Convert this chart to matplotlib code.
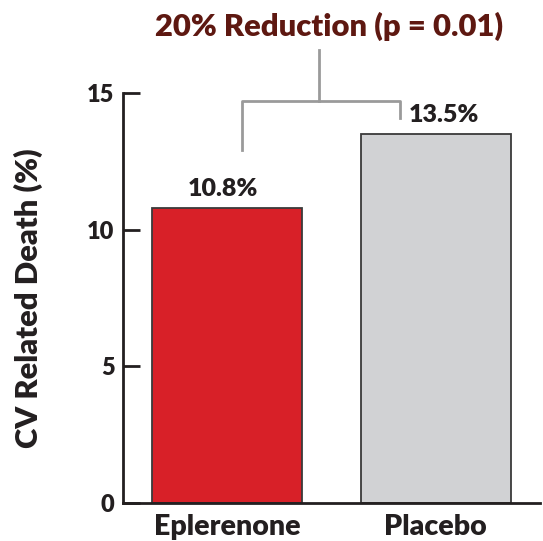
import matplotlib.pyplot as plt

groups = ["Eplerenone", "Placebo"]
death_rate = [10.8, 13.5]
bar_colors = ["#D82028", "#D1D2D4"]
value_labels = ["10.8%", "13.5%"]
y_ticks = [0, 5, 10, 15]
title = "20% Reduction (p = 0.01)"

plt.rcParams['font.family'] = ['Lato', 'DejaVu Sans']
wt = 'heavy'
ink = "#231F20"

fig = plt.figure(figsize=(5.43, 5.41), dpi=100)
ax = fig.add_axes([0.2265, 0.0702, 0.768, 0.758])

x = list(range(len(groups)))
ax.bar(x, death_rate, width=0.72, color=bar_colors, edgecolor="#3a3a3a", linewidth=1.3, zorder=2)

# labels sit a little off centre in the original
label_shift = [-0.02, 0.04]
for xi, v, lab, dx in zip(x, death_rate, value_labels, label_shift):
    ax.text(xi + dx, v + 0.3, lab, ha='center', va='bottom', fontsize=18, fontweight=wt, color=ink)

# bracket between bars
gray = "#9a9a9a"
ax.plot([0.072, 0.072, 0.828, 0.828], [12.92, 14.71, 14.71, 14.09], color=gray, lw=2, clip_on=False)
ax.plot([0.44, 0.44], [14.71, 16.58], color=gray, lw=2, clip_on=False)
ax.text(0.49, 17.45, title, ha='center', va='center', fontsize=22.3, fontweight=wt, color="#5E1811")

ax.set_xlim(-0.5, 1.5)
ax.set_ylim(0, 15)
ax.set_yticks(y_ticks)
ax.set_xticks(x)
ax.set_xticklabels(groups, fontsize=20.5, fontweight=wt, color=ink)
ax.tick_params(axis='y', direction='in', length=12, width=2, pad=6, labelsize=17, color=ink, labelcolor=ink)
ax.tick_params(axis='x', length=0, pad=8)
for lab in ax.get_yticklabels():
    lab.set_fontweight(wt)

ax.spines['top'].set_visible(False)
ax.spines['right'].set_visible(False)
for side in ['left', 'bottom']:
    ax.spines[side].set_linewidth(2)
    ax.spines[side].set_color(ink)

ax.set_ylabel("CV Related Death (%)", fontsize=22.3, fontweight=wt, color=ink)
ax.yaxis.set_label_coords(-0.192, 0.5)

fig.savefig("out.png", dpi=100)
